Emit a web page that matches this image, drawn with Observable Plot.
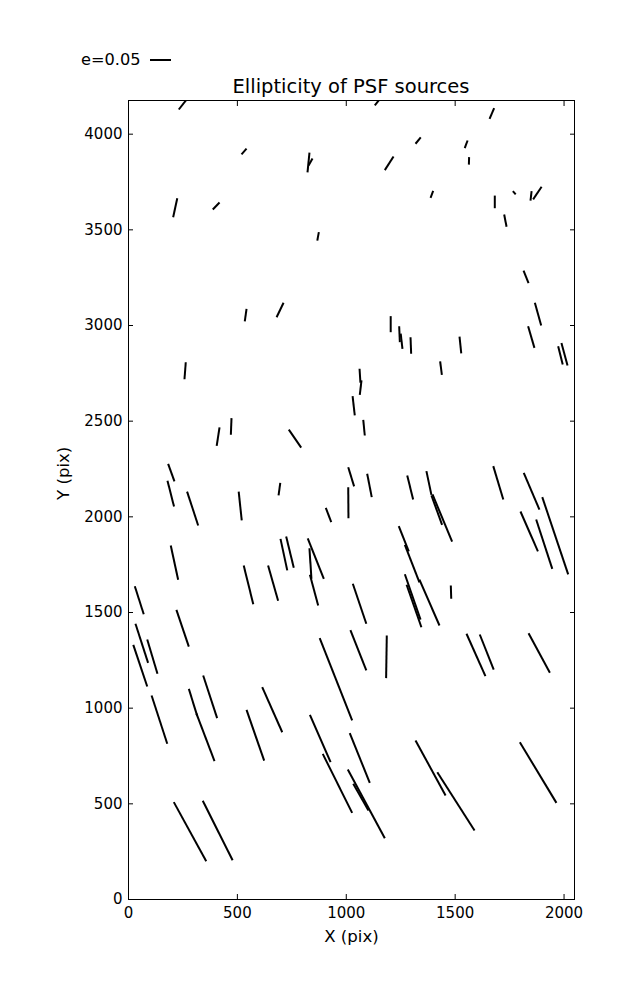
<!DOCTYPE html>
<html>
<head>
<meta charset="utf-8">
<script src="https://cdn.jsdelivr.net/npm/d3@7"></script>
<script src="https://cdn.jsdelivr.net/npm/@observablehq/plot@0.6"></script>
<style>
  body { margin: 0; background: #fff; font-family: "DejaVu Sans", sans-serif; }
  #wrap { position: relative; width: 637px; }
  #header { position: relative; height: 90px; }
  #legend { position: absolute; left: 81px; top: 52px; font-size: 16.2px; line-height: 1; display: flex; align-items: center; color: #000; }
  #legend svg { margin-left: 9px; }
  #title { position: absolute; left: 128px; width: 446px; top: 77px; text-align: center; font-size: 19.5px; line-height: 1; color: #000; }
</style>
</head>
<body>
<div id="wrap">
  <div id="header">
    <div id="legend"><span>e=0.05</span><svg width="22" height="4"><line x1="0" y1="2" x2="21" y2="2" stroke="#000" stroke-width="2"/></svg></div>
    <div id="title">Ellipticity of PSF sources</div>
  </div>
  <div id="chart"></div>
</div>
<script>
// whisker endpoints (pix)
const x1 = [231,519,822,827,205,387,867,1131,1658,1318,1544,1563,1177,1387,1682,1765,1846,1858,1725,1814,
  534,680,257,405,470,736,1029,182,179,269,506,689,1009,1009,1204,1243,1250,1295,1520,1431,
  1866,1835,1973,1988,1061,1070,1078,1096,1280,1368,1396,1391,1675,1815,1900,906,194,698,724,823,
  831,529,641,833,29,220,32,86,22,277,312,343,614,878,1030,1019,1186,1552,1613,1837,
  1800,1872,1241,1269,1269,1277,1336,1480,106,542,833,892,1016,1007,1032,208,341,1318,1418,1797];
const y1 = [4129,3894,3800,3836,3566,3606,3444,4150,4080,3950,3927,3841,3812,3667,3613,3702,3653,3659,3580,3287,
  3021,3043,2719,2371,2429,2456,2631,2277,2188,2132,2132,2112,2155,2259,3049,2996,2957,2939,2942,2813,
  3119,2996,2892,2908,2774,2713,2507,2225,2216,2239,2117,2112,2265,2230,2103,2047,1850,1885,1897,1888,
  1836,1746,1746,1697,1637,1514,1441,1359,1331,1101,971,1171,1110,1366,1650,1408,1380,1389,1385,1392,
  2028,1986,1951,1854,1700,1645,1672,1641,1066,991,965,761,869,679,605,509,516,831,665,822];
const x2 = [273,542,831,845,224,418,874,1155,1679,1342,1557,1564,1217,1399,1682,1778,1851,1897,1736,1837,
  542,712,263,418,473,793,1039,211,209,320,520,697,1010,1036,1204,1246,1258,1298,1528,1439,
  1895,1864,1994,2016,1065,1062,1085,1117,1307,1391,1486,1440,1721,1887,2019,931,228,729,759,897,
  840,573,687,871,70,277,90,133,86,315,395,407,706,1027,1092,1092,1183,1639,1677,1935,
  1880,1946,1287,1336,1341,1345,1428,1482,178,623,928,1027,1108,1177,1102,357,478,1456,1589,1965];
const y2 = [4190,3924,3904,3873,3665,3643,3488,4185,4136,3983,3967,3880,3883,3704,3679,3685,3702,3725,3516,3221,
  3087,3119,2808,2468,2516,2362,2530,2185,2054,1955,1981,2178,1993,2159,2965,2913,2878,2852,2854,2742,
  3000,2883,2796,2791,2701,2638,2425,2103,2091,2115,1871,1958,2091,2038,1699,1972,1671,1720,1734,1676,
  1676,1543,1561,1537,1491,1322,1237,1180,1113,962,723,948,874,936,1441,1197,1157,1167,1201,1185,
  1820,1728,1819,1658,1463,1423,1432,1572,814,726,718,453,610,320,465,200,205,544,361,505];

const xTicks = [0, 500, 1000, 1500, 2000];
const yTicks = [0, 500, 1000, 1500, 2000, 2500, 3000, 3500, 4000];
const xDomain = [0, 2048];
const yDomain = [0, 4176];
const xLabel = "X (pix)";
const yLabel = "Y (pix)";

const whiskers = x1.map((d, i) => ({x1: x1[i], y1: y1[i], x2: x2[i], y2: y2[i]}));
const fmt = d => String(d);
const blank = () => "";

const chart = Plot.plot({
  width: 637,
  height: 870,
  marginTop: 10,
  marginBottom: 61,
  marginLeft: 128,
  marginRight: 63,
  style: {fontFamily: "DejaVu Sans, sans-serif", fontSize: "15px", color: "#000", background: "#fff"},
  x: {domain: xDomain},
  y: {domain: yDomain},
  marks: [
    Plot.link(whiskers, {x1: "x1", y1: "y1", x2: "x2", y2: "y2", stroke: "#000", strokeWidth: 2, clip: true}),
    Plot.axisX({ticks: xTicks, tickSize: -5, tickFormat: blank, label: null}),
    Plot.axisX({anchor: "top", ticks: xTicks, tickSize: -5, tickFormat: blank, label: null}),
    Plot.axisY({ticks: yTicks, tickSize: -5, tickFormat: blank, label: null}),
    Plot.axisY({anchor: "right", ticks: yTicks, tickSize: -5, tickFormat: blank, label: null}),
    Plot.axisX({ticks: xTicks, tickSize: 0, tickPadding: 8, tickFormat: fmt, label: null, fontSize: 15}),
    Plot.axisY({ticks: yTicks, tickSize: 0, tickPadding: 6, tickFormat: fmt, label: null, fontSize: 15}),
    Plot.text([xLabel], {frameAnchor: "bottom", dy: 42, fontSize: 16.6, fill: "#000"}),
    Plot.text([yLabel], {frameAnchor: "left", dx: -65, rotate: -90, fontSize: 16.6, fill: "#000"}),
    Plot.frame({stroke: "#000", strokeWidth: 1})
  ]
});
document.getElementById("chart").appendChild(chart);
</script>
</body>
</html>
